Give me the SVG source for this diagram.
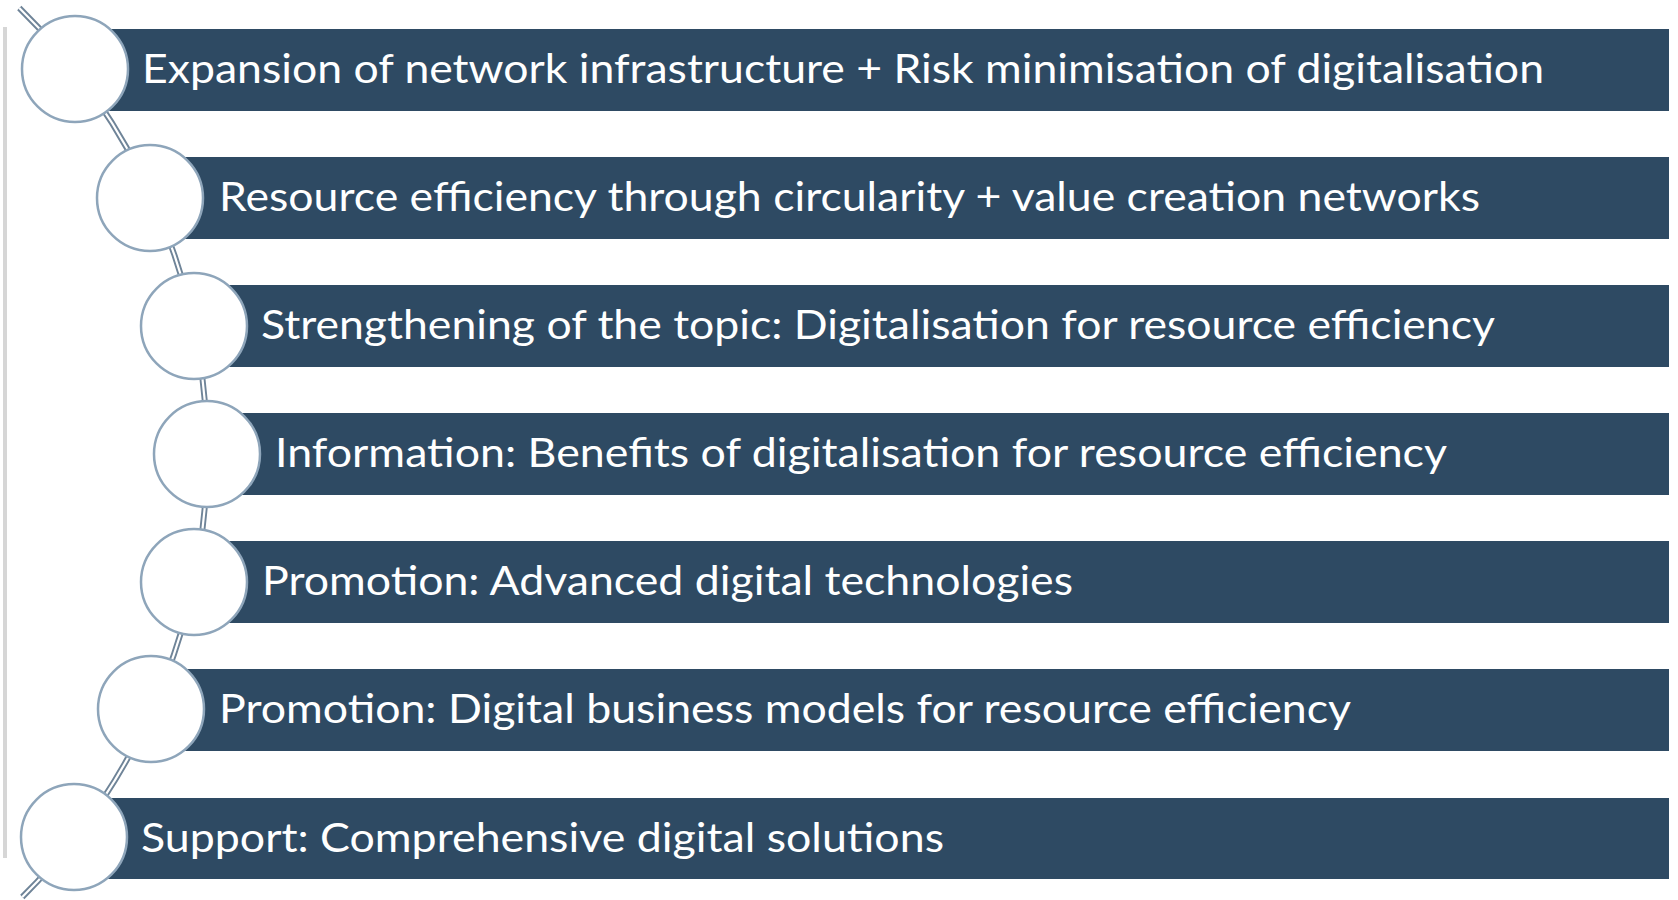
<svg xmlns="http://www.w3.org/2000/svg" width="1678" height="900" viewBox="0 0 1678 900">
<style>
.bar{fill:#2e4a63}
.node circle{fill:#ffffff;stroke:#8ea5ba;stroke-width:2.5}
.lbl{font-family:Lato,"Open Sans","Liberation Sans",sans-serif;font-size:40px;fill:#ffffff}
.conn-o{fill:none;stroke:#6f8498;stroke-width:6}
.conn-i{fill:none;stroke:#ffffff;stroke-width:2.2}
</style>
<rect x="0" y="0" width="1678" height="900" fill="#ffffff"/>
<rect x="3" y="27" width="4" height="831" fill="#d6d6d6"/>
<g id="connectors">
<path class="conn-o" d="M19.3,8 A623.7,623.7 0 0 1 22.3,897"/>
<path class="conn-i" d="M19.3,8 A623.7,623.7 0 0 1 22.3,897"/>
</g>
<g id="node1" class="node">
<rect class="bar" x="75" y="29" width="1594" height="82"/>
<circle cx="75" cy="69" r="53"/>
<text class="lbl" x="142" y="83" textLength="1402" lengthAdjust="spacingAndGlyphs">Expansion of network infrastructure + Risk minimisation of digitalisation</text>
</g>
<g id="node2" class="node">
<rect class="bar" x="150" y="157" width="1519" height="82"/>
<circle cx="150" cy="198" r="53"/>
<text class="lbl" x="219" y="211" textLength="1261" lengthAdjust="spacingAndGlyphs">Resource efficiency through circularity + value creation networks</text>
</g>
<g id="node3" class="node">
<rect class="bar" x="194" y="285" width="1475" height="82"/>
<circle cx="194" cy="326" r="53"/>
<text class="lbl" x="261" y="339" textLength="1234" lengthAdjust="spacingAndGlyphs">Strengthening of the topic: Digitalisation for resource efficiency</text>
</g>
<g id="node4" class="node">
<rect class="bar" x="207" y="413" width="1462" height="82"/>
<circle cx="207" cy="454" r="53"/>
<text class="lbl" x="275" y="467" textLength="1172" lengthAdjust="spacingAndGlyphs">Information: Benefits of digitalisation for resource efficiency</text>
</g>
<g id="node5" class="node">
<rect class="bar" x="194" y="541" width="1475" height="82"/>
<circle cx="194" cy="582" r="53"/>
<text class="lbl" x="262" y="595" textLength="811" lengthAdjust="spacingAndGlyphs">Promotion: Advanced digital technologies</text>
</g>
<g id="node6" class="node">
<rect class="bar" x="150" y="669" width="1519" height="82"/>
<circle cx="151" cy="709" r="53"/>
<text class="lbl" x="219" y="723" textLength="1132" lengthAdjust="spacingAndGlyphs">Promotion: Digital business models for resource efficiency</text>
</g>
<g id="node7" class="node">
<rect class="bar" x="75" y="798" width="1594" height="81"/>
<circle cx="74" cy="837" r="53"/>
<text class="lbl" x="141" y="852" textLength="803" lengthAdjust="spacingAndGlyphs">Support: Comprehensive digital solutions</text>
</g>
</svg>
